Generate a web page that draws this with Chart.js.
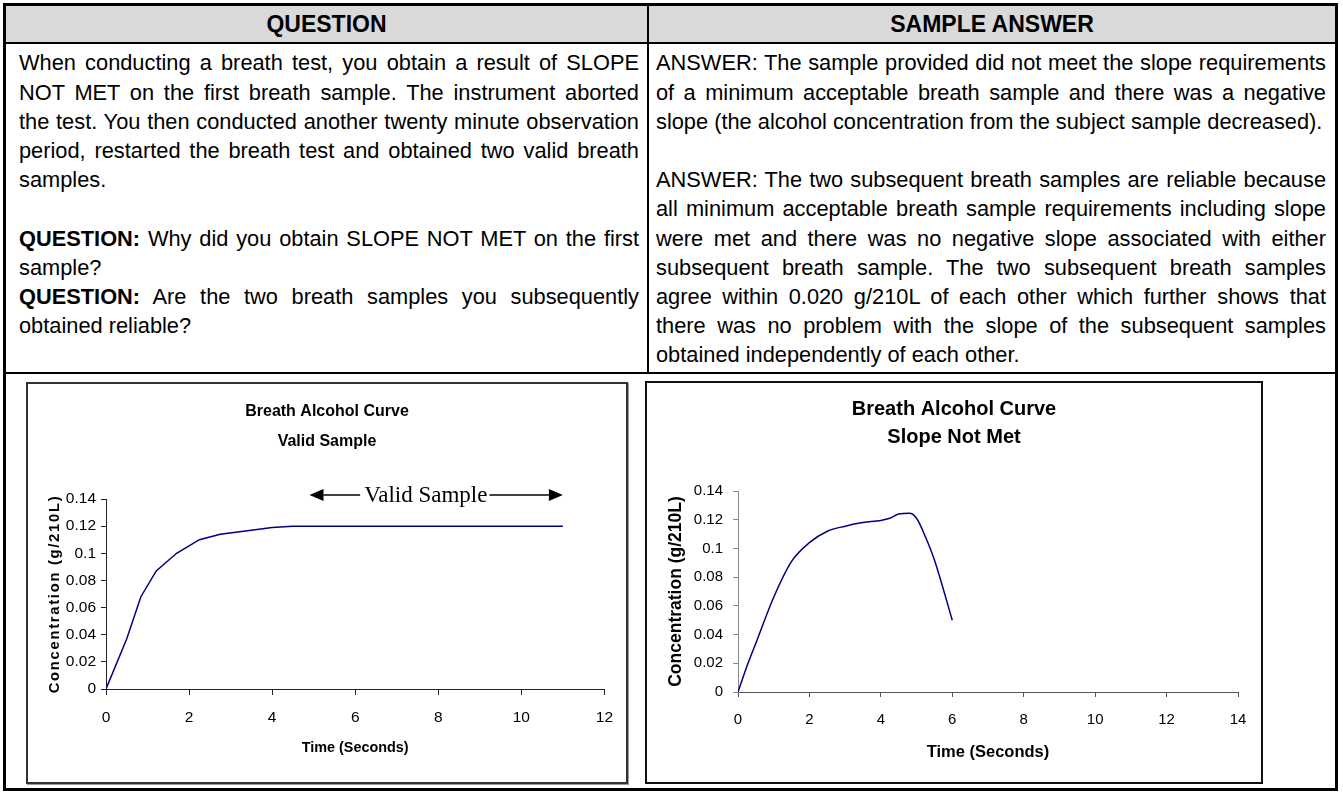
<!DOCTYPE html>
<html>
<head>
<meta charset="utf-8">
<title>Breath Alcohol Curve</title>
<script src="https://cdn.jsdelivr.net/npm/chart.js@4.4.1/dist/chart.umd.min.js"></script>
<style>
  html, body { margin: 0; padding: 0; background: #fff; }
  body { position: relative; width: 1343px; height: 792px; overflow: hidden;
         font-family: 'Liberation Sans', Arial, sans-serif; color: #000; }
  .abs { position: absolute; box-sizing: border-box; }
  .rule { background: #000; }
  #head { left: 6px; top: 6px; width: 1329px; height: 36px; background: #d9d9d9; }
  #frame { left: 3px; top: 3px; width: 1335px; height: 788px; border: 3px solid #000; }
  .hcell { top: 6px; height: 36px; line-height: 36px; text-align: center;
           font-weight: bold; font-size: 23px; }
  .col { top: 48.4px; font-size: 21.8px; }
  .col div { height: 29.2px; line-height: 29.2px; }
  .col .j { text-align: justify; text-align-last: justify; }
  #boxA { left: 26px; top: 382px; width: 602px; height: 402px;
          border: 2px solid #333; box-shadow: 1px 1px 0 #9a9a9a; }
  #boxB { left: 645px; top: 381px; width: 618px; height: 403px; border: 2px solid #111; }
  canvas { display: block; }
</style>
</head>
<body>
<div class="abs" id="head"></div>
<div class="abs rule" style="left:6px; top:42px; width:1329px; height:2px;"></div>
<div class="abs rule" style="left:647px; top:6px; width:2px; height:367px;"></div>
<div class="abs rule" style="left:6px; top:372px; width:1329px; height:2px;"></div>
<div class="abs" id="frame"></div>

<div class="abs hcell" style="left:6px; width:641px;">QUESTION</div>
<div class="abs hcell" style="left:649px; width:686px;">SAMPLE ANSWER</div>

<div class="abs col" style="left:19px; width:620px;">
  <div class="j">When conducting a breath test, you obtain a result of SLOPE</div>
  <div class="j">NOT MET on the first breath sample. The instrument aborted</div>
  <div class="j">the test. You then conducted another twenty minute observation</div>
  <div class="j">period, restarted the breath test and obtained two valid breath</div>
  <div>samples.</div>
  <div>&nbsp;</div>
  <div class="j"><b>QUESTION:</b> Why did you obtain SLOPE NOT MET on the first</div>
  <div>sample?</div>
  <div class="j"><b>QUESTION:</b> Are the two breath samples you subsequently</div>
  <div>obtained reliable?</div>
</div>

<div class="abs col" style="left:656px; width:670px;">
  <div class="j">ANSWER: The sample provided did not meet the slope requirements</div>
  <div class="j">of a minimum acceptable breath sample and there was a negative</div>
  <div>slope (the alcohol concentration from the subject sample decreased).</div>
  <div>&nbsp;</div>
  <div class="j">ANSWER: The two subsequent breath samples are reliable because</div>
  <div class="j">all minimum acceptable breath sample requirements including slope</div>
  <div class="j">were met and there was no negative slope associated with either</div>
  <div class="j">subsequent breath sample. The two subsequent breath samples</div>
  <div class="j">agree within 0.020 g/210L of each other which further shows that</div>
  <div class="j">there was no problem with the slope of the subsequent samples</div>
  <div>obtained independently of each other.</div>
</div>

<div class="abs" id="boxA"><canvas id="chartA" width="598" height="398"></canvas></div>
<div class="abs" id="boxB"><canvas id="chartB" width="614" height="399"></canvas></div>

<script>
// valid sample: concentration rises and levels off
const validTime = [0, 0.5, 0.84, 1.21, 1.7, 2.25, 2.75, 3.5, 4, 4.5, 5, 6, 7, 8, 9, 10, 11];
const validConc = [0, 0.037, 0.068, 0.087, 0.1, 0.11, 0.114, 0.117, 0.119, 0.12, 0.12, 0.12, 0.12, 0.12, 0.12, 0.12, 0.12];

// slope not met: concentration peaks then falls
const slopeTime = [0, 0.25, 0.5, 1, 1.5, 2, 2.5, 3, 3.5, 4, 4.25, 4.5, 4.8, 5, 5.25, 5.5, 6];
const slopeConc = [0, 0.018, 0.034, 0.066, 0.091, 0.104, 0.112, 0.1155, 0.118, 0.1195, 0.121, 0.124, 0.1245, 0.121, 0.108, 0.092, 0.05];

const yTickLabels = ['0', '0.02', '0.04', '0.06', '0.08', '0.1', '0.12', '0.14'];

// "Valid Sample" bracket over the flat part of the first curve
const validSpan = [4.9, 11];
const validLabelAt = 7.7;
const validLevel = 0.143;

const FONT = "'Liberation Sans', Arial, sans-serif";
const LINE_COLOR = '#000080';

// left chart was set in a condensed face; fall back to scaled-down regular if missing
function hasFont(name) {
  const c = document.createElement('canvas').getContext('2d');
  c.font = '40px monospace';
  const base = c.measureText('Breath Alcohol Curve').width;
  c.font = `40px "${name}", monospace`;
  return c.measureText('Breath Alcohol Curve').width !== base;
}
const HAS_NARROW = hasFont('Liberation Sans Narrow');
const NARROW = HAS_NARROW ? "'Liberation Sans Narrow', " + FONT : FONT;
const nsize = (s) => (HAS_NARROW ? s : Math.round(s * 0.82 * 10) / 10);

Chart.defaults.color = '#000';

function toPoints(xs, ys) {
  return xs.map((x, i) => ({ x, y: ys[i] }));
}

function yLabel(v) {
  return yTickLabels[Math.round(v / 0.02)];
}

// letter-spaced y axis title on the first chart
const spacedTitle = {
  id: 'spacedTitle',
  beforeDraw(chart) {
    const s = chart.scales.y;
    if (s._spaced) return;
    const orig = s.drawTitle;
    s.drawTitle = function () {
      this.ctx.save();
      this.ctx.letterSpacing = '1.7px';
      orig.call(this);
      this.ctx.restore();
    };
    s._spaced = true;
  },
};

function drawArrow(ctx, from, to, y) {
  const dir = to > from ? 1 : -1;
  const head = 14;
  ctx.beginPath();
  ctx.moveTo(from, y);
  ctx.lineTo(to - dir * head, y);
  ctx.stroke();
  ctx.beginPath();
  ctx.moveTo(to, y);
  ctx.lineTo(to - dir * head, y - 6);
  ctx.lineTo(to - dir * head, y + 6);
  ctx.closePath();
  ctx.fill();
}

const validSampleMark = {
  id: 'validSampleMark',
  afterDraw(chart) {
    const { ctx, scales: { x, y } } = chart;
    const yy = y.getPixelForValue(validLevel);
    const tx = x.getPixelForValue(validLabelAt);
    ctx.save();
    ctx.font = '23px "Liberation Serif", "Times New Roman", serif';
    ctx.textAlign = 'center';
    ctx.textBaseline = 'middle';
    ctx.fillStyle = '#000';
    ctx.strokeStyle = '#000';
    ctx.lineWidth = 1.5;
    const w = ctx.measureText('Valid Sample').width;
    ctx.fillText('Valid Sample', tx, yy + 1);
    drawArrow(ctx, tx - w / 2 - 4, x.getPixelForValue(validSpan[0]), yy);
    drawArrow(ctx, tx + w / 2 + 2, x.getPixelForValue(validSpan[1]), yy);
    ctx.restore();
  },
};

function axisTicks(color, len) {
  return { display: true, drawOnChartArea: false, drawTicks: true, tickLength: len, color };
}

// --- Left: valid sample ---

new Chart(document.getElementById('chartA'), {
  type: 'line',
  data: {
    datasets: [{
      data: toPoints(validTime, validConc),
      borderColor: LINE_COLOR,
      borderWidth: 1.5,
      pointRadius: 0,
      tension: 0,
      fill: false,
    }],
  },
  options: {
    responsive: false,
    animation: false,
    events: [],
    layout: { padding: { left: 19, right: 19, top: 0, bottom: 0 } },
    plugins: {
      legend: { display: false },
      tooltip: { enabled: false },
      title: {
        display: true,
        text: ['Breath Alcohol Curve', 'Valid Sample'],
        color: '#000',
        font: { family: NARROW, size: nsize(19.5), weight: 'bold', lineHeight: '30px' },
        padding: { top: 13, bottom: 42 },
      },
    },
    scales: {
      x: {
        type: 'linear', min: 0, max: 12,
        afterFit: (s) => { s.height = 93; },
        ticks: { stepSize: 2, padding: 13, font: { family: FONT, size: 15.5 }, callback: (v) => String(v) },
        grid: axisTicks('#222', 6),
        border: { display: true, color: '#222', width: 1 },
        title: {
          display: true, text: 'Time (Seconds)',
          font: { family: NARROW, size: nsize(17.5), weight: 'bold', lineHeight: 1 },
          padding: { top: 0, bottom: 34 - nsize(17.5) / 2 },
        },
      },
      y: {
        min: 0, max: 0.14,
        afterFit: (s) => { s.width = 59; },
        ticks: { stepSize: 0.02, padding: 5, font: { family: FONT, size: 15.5 }, callback: yLabel },
        grid: axisTicks('#222', 5),
        border: { display: true, color: '#222', width: 1 },
        title: {
          display: true, text: 'Concentration (g/210L)',
          font: { family: NARROW, size: nsize(18), weight: 'bold', lineHeight: 1 },
          padding: { top: 8 - nsize(18) / 2, bottom: 0 },
        },
      },
    },
  },
  plugins: [spacedTitle, validSampleMark],
});

// --- Right: slope not met ---

new Chart(document.getElementById('chartB'), {
  type: 'line',
  data: {
    datasets: [{
      data: toPoints(slopeTime, slopeConc),
      borderColor: LINE_COLOR,
      borderWidth: 1.5,
      pointRadius: 0,
      cubicInterpolationMode: 'monotone',
      fill: false,
    }],
  },
  options: {
    responsive: false,
    animation: false,
    events: [],
    layout: { padding: { left: 23, right: 23, top: 0, bottom: 0 } },
    plugins: {
      legend: { display: false },
      tooltip: { enabled: false },
      title: {
        display: true,
        text: ['Breath Alcohol Curve', 'Slope Not Met'],
        color: '#000',
        font: { family: FONT, size: 20, weight: 'bold', lineHeight: '28px' },
        padding: { top: 12, bottom: 40 },
      },
    },
    scales: {
      x: {
        type: 'linear', min: 0, max: 14,
        afterFit: (s) => { s.height = 90; },
        ticks: { stepSize: 2, padding: 14, font: { family: FONT, size: 15 }, callback: (v) => String(v) },
        grid: axisTicks('#555', 5),
        border: { display: true, color: '#555', width: 1 },
        title: {
          display: true, text: 'Time (Seconds)',
          font: { family: FONT, size: 16.5, weight: 'bold' },
          padding: { top: 0, bottom: 20.1 },
        },
      },
      y: {
        min: 0, max: 0.14,
        afterFit: (s) => { s.width = 68; },
        ticks: { stepSize: 0.02, padding: 10, font: { family: FONT, size: 15 }, callback: yLabel },
        grid: axisTicks('#888', 5),
        border: { display: true, color: '#888', width: 1 },
        title: {
          display: true, text: 'Concentration (g/210L)',
          font: { family: FONT, size: 17.5, weight: 'bold', lineHeight: 1 },
          padding: { top: -2.75, bottom: 0 },
        },
      },
    },
  },
});
</script>
</body>
</html>
